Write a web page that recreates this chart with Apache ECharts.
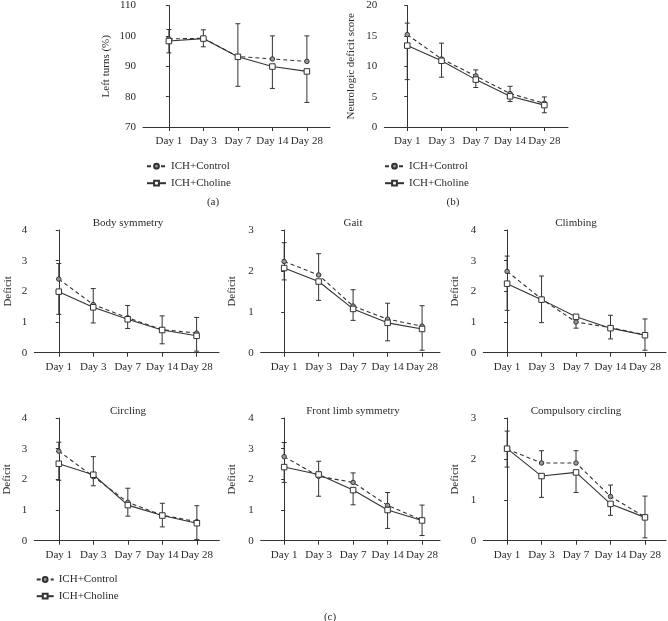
<!DOCTYPE html>
<html>
<head>
<meta charset="utf-8">
<script src="https://cdn.jsdelivr.net/npm/echarts@6/dist/echarts.min.js"></script>
<style>
html, body { margin: 0; padding: 0; background: #fff; }
#chart { width: 668px; height: 621px; }
</style>
</head>
<body>
<div id="chart"></div>
<script>
const days = ['Day 1', 'Day 3', 'Day 7', 'Day 14', 'Day 28']
const groups = ['ICH+Control', 'ICH+Choline']

// (a) left turns
const leftControl = [99.0, 99.2, 93.2, 92.4, 91.6]
const leftControlSd = [3.1, 2.8, 10.8, 7.6, 8.4]
const leftCholine = [98.3, 99.1, 93.1, 89.9, 88.3]
const leftCholineSd = [3.9, 2.7, 9.7, 7.2, 10.2]

// (b) neurologic deficit score
const scoreControl = [15.2, 11.2, 8.4, 5.5, 3.9]
const scoreControlSd = [1.9, 2.6, 1.0, 1.2, 1.05]
const scoreCholine = [13.4, 10.9, 7.8, 5.05, 3.6]
const scoreCholineSd = [5.6, 2.7, 1.3, 0.85, 1.25]

// (c) deficit sub scores
const bodyControl = [2.40, 1.57, 1.14, 0.75, 0.64]
const bodyControlSd = [0.51, 0.52, 0.40, 0.45, 0.51]
const bodyCholine = [1.99, 1.48, 1.09, 0.74, 0.55]
const bodyCholineSd = [0.74, 0.51, 0.30, 0.45, 0.50]

const gaitControl = [2.23, 1.90, 1.14, 0.82, 0.65]
const gaitControlSd = [0.46, 0.52, 0.40, 0.39, 0.50]
const gaitCholine = [2.07, 1.74, 1.07, 0.73, 0.58]
const gaitCholineSd = [0.29, 0.46, 0.28, 0.44, 0.52]

const climbControl = [2.65, 1.75, 1.00, 0.82, 0.58]
const climbControlSd = [0.50, 0.75, 0.22, 0.40, 0.52]
const climbCholine = [2.25, 1.73, 1.17, 0.80, 0.57]
const climbCholineSd = [0.87, 0.75, 0.37, 0.35, 0.49]

const circControl = [2.92, 2.09, 1.25, 0.83, 0.62]
const circControlSd = [0.29, 0.65, 0.46, 0.39, 0.52]
const circCholine = [2.51, 2.15, 1.16, 0.82, 0.57]
const circCholineSd = [0.54, 0.36, 0.36, 0.37, 0.53]

const limbControl = [2.74, 2.10, 1.90, 1.15, 0.67]
const limbControlSd = [0.46, 0.49, 0.31, 0.42, 0.49]
const limbCholine = [2.40, 2.16, 1.65, 1.00, 0.66]
const limbCholineSd = [0.50, 0.71, 0.48, 0.60, 0.49]

const compControl = [2.24, 1.90, 1.90, 1.08, 0.58]
const compControlSd = [0.44, 0.30, 0.30, 0.28, 0.51]
const compCholine = [2.25, 1.58, 1.67, 0.90, 0.57]
const compCholineSd = [0.45, 0.52, 0.49, 0.28, 0.50]

const FONT = 'Liberation Serif'
const INK = '#2a2a2a'
const LINE = '#333'

// one entry per sub plot: data + where it sits
const panels = [
  { ctrl: leftControl, ctrlSd: leftControlSd, chol: leftCholine, cholSd: leftCholineSd,
    box: [143, 4.7, 330, 127], x: [-0.75, 4.67], y: [70, 110, 10], name: 'Left turns (%)', gap: 31 },
  { ctrl: scoreControl, ctrlSd: scoreControlSd, chol: scoreCholine, cholSd: scoreCholineSd,
    box: [384.3, 4.7, 568, 127], x: [-0.67, 4.69], y: [0, 20, 5], name: 'Neurologic deficit score', gap: 28 },
  { ctrl: bodyControl, ctrlSd: bodyControlSd, chol: bodyCholine, cholSd: bodyCholineSd,
    box: [34.3, 230, 219, 352.7], x: [-0.71, 4.65], y: [0, 4, 1], name: 'Deficit', gap: 21 },
  { ctrl: gaitControl, ctrlSd: gaitControlSd, chol: gaitCholine, cholSd: gaitCholineSd,
    box: [260.7, 230, 440, 352.7], x: [-0.68, 4.52], y: [0, 3, 1], name: 'Deficit', gap: 23 },
  { ctrl: climbControl, ctrlSd: climbControlSd, chol: climbCholine, cholSd: climbCholineSd,
    box: [483.3, 230, 666, 352.7], x: [-0.69, 4.61], y: [0, 4, 1], name: 'Deficit', gap: 23 },
  { ctrl: circControl, ctrlSd: circControlSd, chol: circCholine, cholSd: circCholineSd,
    box: [34.3, 418, 219.3, 540.7], x: [-0.71, 4.65], y: [0, 4, 1], name: 'Deficit', gap: 22 },
  { ctrl: limbControl, ctrlSd: limbControlSd, chol: limbCholine, cholSd: limbCholineSd,
    box: [260.7, 418, 440, 540.7], x: [-0.68, 4.52], y: [0, 4, 1], name: 'Deficit', gap: 23 },
  { ctrl: compControl, ctrlSd: compControlSd, chol: compCholine, cholSd: compCholineSd,
    box: [483.3, 418, 666, 540.7], x: [-0.69, 4.61], y: [0, 3, 1], name: 'Deficit', gap: 23 }
]

const titles = [
  ['Body symmetry', 128, 223], ['Gait', 353, 223], ['Climbing', 576, 223],
  ['Circling', 128, 411], ['Front limb symmetry', 353, 411], ['Compulsory circling', 576, 411],
  ['(a)', 213, 202], ['(b)', 453, 202], ['(c)', 330, 617]
]

const textStyle = { fontFamily: FONT, fontSize: 11, color: INK }

const grid = []
const xAxis = []
const yAxis = []
const series = []

function errorBar (gi, means, sds, up) {
  return {
    type: 'custom',
    xAxisIndex: gi,
    yAxisIndex: gi,
    silent: true,
    z: 1,
    data: means.map((m, i) => [i, m, up ? m + sds[i] : m - sds[i]]),
    renderItem (params, api) {
      const p0 = api.coord([api.value(0), api.value(1)])
      const p1 = api.coord([api.value(0), api.value(2)])
      const st = { stroke: LINE, lineWidth: 1 }
      return {
        type: 'group',
        children: [
          { type: 'line', shape: { x1: p0[0], y1: p0[1], x2: p1[0], y2: p1[1] }, style: st },
          { type: 'line', shape: { x1: p1[0] - 2.5, y1: p1[1], x2: p1[0] + 2.5, y2: p1[1] }, style: st }
        ]
      }
    }
  }
}

panels.forEach((p, gi) => {
  const [l, t, r, b] = p.box
  grid.push({ left: l, top: t, width: r - l, height: b - t })
  xAxis.push({
    type: 'value',
    gridIndex: gi,
    min: p.x[0],
    max: p.x[1],
    splitLine: { show: false },
    axisLine: { lineStyle: { color: LINE, width: 1 } },
    axisTick: { customValues: [0, 1, 2, 3, 4], length: 4, lineStyle: { color: LINE } },
    axisLabel: { customValues: [0, 1, 2, 3, 4], formatter: v => days[Math.round(v)], margin: 9, ...textStyle }
  })
  yAxis.push({
    type: 'value',
    gridIndex: gi,
    min: p.y[0],
    max: p.y[1],
    interval: p.y[2],
    name: p.name,
    nameLocation: 'middle',
    nameGap: p.gap,
    nameTextStyle: textStyle,
    splitLine: { show: false },
    axisLine: { show: true, lineStyle: { color: LINE, width: 1 } },
    axisTick: { show: true, length: 3, lineStyle: { color: LINE } },
    axisLabel: { margin: 7, ...textStyle }
  })
  series.push(errorBar(gi, p.ctrl, p.ctrlSd, true))
  series.push(errorBar(gi, p.chol, p.cholSd, false))
  series.push({
    name: groups[0],
    type: 'line',
    xAxisIndex: gi,
    yAxisIndex: gi,
    data: p.ctrl.map((v, i) => [i, v]),
    symbol: 'circle',
    symbolSize: 4.5,
    itemStyle: { color: '#999', borderColor: LINE, borderWidth: 1 },
    lineStyle: { color: LINE, width: 1.1, type: [4, 3] },
    z: 3
  })
  series.push({
    name: groups[1],
    type: 'line',
    xAxisIndex: gi,
    yAxisIndex: gi,
    data: p.chol.map((v, i) => [i, v]),
    symbol: 'rect',
    symbolSize: 5.5,
    itemStyle: { color: '#fff', borderColor: LINE, borderWidth: 1 },
    lineStyle: { color: LINE, width: 1.1 },
    z: 3
  })
})

function legendAt (left, top, w, gap) {
  return {
    data: groups,
    orient: 'vertical',
    left: left,
    top: top,
    padding: 0,
    itemWidth: w,
    itemHeight: 6,
    itemGap: gap,
    selectedMode: false,
    textStyle: textStyle
  }
}

const chart = echarts.init(document.getElementById('chart'))
chart.setOption({
  backgroundColor: '#fff',
  animation: false,
  grid,
  xAxis,
  yAxis,
  series,
  legend: [
    legendAt(146, 160.7, 19, 6),
    legendAt(384, 160.7, 19, 6),
    legendAt(35.7, 574, 17, 5.7)
  ],
  graphic: titles.map(([text, x, y]) => ({
    type: 'text',
    x: x,
    y: y,
    style: { text, fontFamily: FONT, fontSize: 11, fill: INK, align: 'center', verticalAlign: 'middle' }
  }))
})
</script>
</body>
</html>
